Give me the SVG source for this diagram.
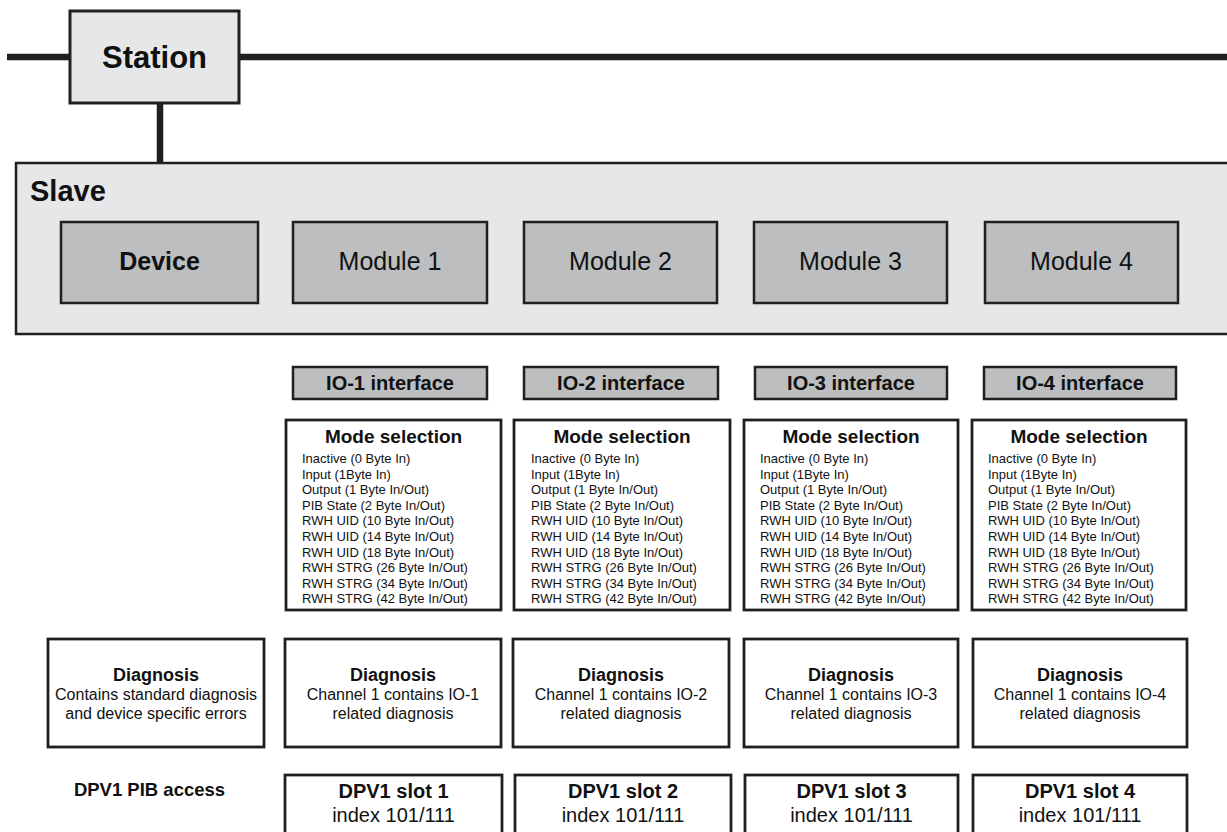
<svg xmlns="http://www.w3.org/2000/svg" width="1227" height="832" viewBox="0 0 1227 832">
  <style>
    text { font-family: "Liberation Sans", Arial, sans-serif; fill: #111; }
    .b { font-weight: bold; }
    .mid { text-anchor: middle; }
    .bus { stroke: #231f20; stroke-width: 6.5; fill: none; }
    .station { fill: #e6e7e8; stroke: #231f20; stroke-width: 3; }
    .slave { fill: #e6e7e8; stroke: #231f20; stroke-width: 2.5; }
    .mod { fill: #bcbec0; stroke: #231f20; stroke-width: 2.5; }
    .box { fill: #ffffff; stroke: #231f20; stroke-width: 2.8; }
    .item { font-size: 13px; }
    .modtitle { font-size: 19px; }
    .diagtitle { font-size: 18px; }
    .body { font-size: 16px; }
    .slot { font-size: 20px; }
  </style>

  <!-- bus and drop line -->
  <g id="connectors">
    <line class="bus" x1="7" y1="57" x2="70" y2="57"/>
    <line class="bus" x1="239" y1="57" x2="1227" y2="57"/>
    <line class="bus" x1="160" y1="103" x2="160" y2="164"/>
  </g>

  <g id="station">
    <rect class="station" x="70" y="11" width="169" height="92"/>
    <text class="b mid" x="154.5" y="68" font-size="31">Station</text>
  </g>

  <g id="slave">
    <rect class="slave" x="16" y="163" width="1225" height="171"/>
    <text class="b" x="30" y="201" font-size="29">Slave</text>
  </g>

  <g id="device">
    <rect class="mod" x="61" y="222" width="197" height="81"/>
    <text class="b mid" x="159.5" y="270" font-size="25">Device</text>
  </g>
  <g id="module-1">
    <rect class="mod" x="293" y="222" width="194" height="81"/>
    <text class="mid" x="390" y="270" font-size="25">Module 1</text>
  </g>
  <g id="module-2">
    <rect class="mod" x="524" y="222" width="193" height="81"/>
    <text class="mid" x="620.5" y="270" font-size="25">Module 2</text>
  </g>
  <g id="module-3">
    <rect class="mod" x="754" y="222" width="193" height="81"/>
    <text class="mid" x="850.5" y="270" font-size="25">Module 3</text>
  </g>
  <g id="module-4">
    <rect class="mod" x="985" y="222" width="193" height="81"/>
    <text class="mid" x="1081.5" y="270" font-size="25">Module 4</text>
  </g>

  <!-- IO interface headers -->
  <g id="io-1">
    <rect class="mod" x="293" y="367" width="194" height="32"/>
    <text class="b mid" x="390" y="390" font-size="20">IO-1 interface</text>
  </g>
  <g id="io-2">
    <rect class="mod" x="524" y="367" width="194" height="32"/>
    <text class="b mid" x="621" y="390" font-size="20">IO-2 interface</text>
  </g>
  <g id="io-3">
    <rect class="mod" x="755" y="367" width="192" height="32"/>
    <text class="b mid" x="851" y="390" font-size="20">IO-3 interface</text>
  </g>
  <g id="io-4">
    <rect class="mod" x="984" y="367" width="192" height="32"/>
    <text class="b mid" x="1080" y="390" font-size="20">IO-4 interface</text>
  </g>

  <!-- mode selection lists -->
  <defs>
    <g id="mode-list">
      <text class="item" x="0" y="463">Inactive (0 Byte In)</text>
      <text class="item" x="0" y="478.6">Input (1Byte In)</text>
      <text class="item" x="0" y="494.2">Output (1 Byte In/Out)</text>
      <text class="item" x="0" y="509.8">PIB State (2 Byte In/Out)</text>
      <text class="item" x="0" y="525.4">RWH UID (10 Byte In/Out)</text>
      <text class="item" x="0" y="541">RWH UID (14 Byte In/Out)</text>
      <text class="item" x="0" y="556.6">RWH UID (18 Byte In/Out)</text>
      <text class="item" x="0" y="572.2">RWH STRG (26 Byte In/Out)</text>
      <text class="item" x="0" y="587.8">RWH STRG (34 Byte In/Out)</text>
      <text class="item" x="0" y="603.4">RWH STRG (42 Byte In/Out)</text>
    </g>
  </defs>
  <g id="mode-1">
    <rect class="box" x="286" y="420" width="215" height="190"/>
    <text class="b mid modtitle" x="393.5" y="443">Mode selection</text>
    <use href="#mode-list" x="302"/>
  </g>
  <g id="mode-2">
    <rect class="box" x="514" y="420" width="216" height="190"/>
    <text class="b mid modtitle" x="622" y="443">Mode selection</text>
    <use href="#mode-list" x="531"/>
  </g>
  <g id="mode-3">
    <rect class="box" x="744" y="420" width="214" height="190"/>
    <text class="b mid modtitle" x="851" y="443">Mode selection</text>
    <use href="#mode-list" x="760"/>
  </g>
  <g id="mode-4">
    <rect class="box" x="972" y="420" width="214" height="190"/>
    <text class="b mid modtitle" x="1079" y="443">Mode selection</text>
    <use href="#mode-list" x="988"/>
  </g>

  <!-- diagnosis blocks -->
  <g id="diag-device">
    <rect class="box" x="48" y="639" width="216" height="108"/>
    <text class="b mid diagtitle" x="156" y="681">Diagnosis</text>
    <text class="mid body" x="156" y="700">Contains standard diagnosis</text>
    <text class="mid body" x="156" y="719">and device specific errors</text>
  </g>
  <g id="diag-1">
    <rect class="box" x="285" y="639" width="216" height="108"/>
    <text class="b mid diagtitle" x="393" y="681">Diagnosis</text>
    <text class="mid body" x="393" y="700">Channel 1 contains IO-1</text>
    <text class="mid body" x="393" y="719">related diagnosis</text>
  </g>
  <g id="diag-2">
    <rect class="box" x="513" y="639" width="216" height="108"/>
    <text class="b mid diagtitle" x="621" y="681">Diagnosis</text>
    <text class="mid body" x="621" y="700">Channel 1 contains IO-2</text>
    <text class="mid body" x="621" y="719">related diagnosis</text>
  </g>
  <g id="diag-3">
    <rect class="box" x="744" y="639" width="214" height="108"/>
    <text class="b mid diagtitle" x="851" y="681">Diagnosis</text>
    <text class="mid body" x="851" y="700">Channel 1 contains IO-3</text>
    <text class="mid body" x="851" y="719">related diagnosis</text>
  </g>
  <g id="diag-4">
    <rect class="box" x="973" y="639" width="214" height="108"/>
    <text class="b mid diagtitle" x="1080" y="681">Diagnosis</text>
    <text class="mid body" x="1080" y="700">Channel 1 contains IO-4</text>
    <text class="mid body" x="1080" y="719">related diagnosis</text>
  </g>

  <!-- DPV1 parameter access -->
  <g id="pib-label">
    <text class="b mid" x="149.5" y="796" font-size="18.5">DPV1 PIB access</text>
  </g>
  <g id="slot-1">
    <rect class="box" x="285" y="775" width="217" height="70"/>
    <text class="b mid slot" x="393.5" y="798">DPV1 slot 1</text>
    <text class="mid slot" x="393.5" y="822">index 101/111</text>
  </g>
  <g id="slot-2">
    <rect class="box" x="515" y="775" width="216" height="70"/>
    <text class="b mid slot" x="623" y="798">DPV1 slot 2</text>
    <text class="mid slot" x="623" y="822">index 101/111</text>
  </g>
  <g id="slot-3">
    <rect class="box" x="745" y="775" width="213" height="70"/>
    <text class="b mid slot" x="851.5" y="798">DPV1 slot 3</text>
    <text class="mid slot" x="851.5" y="822">index 101/111</text>
  </g>
  <g id="slot-4">
    <rect class="box" x="973" y="775" width="214" height="70"/>
    <text class="b mid slot" x="1080" y="798">DPV1 slot 4</text>
    <text class="mid slot" x="1080" y="822">index 101/111</text>
  </g>
</svg>
